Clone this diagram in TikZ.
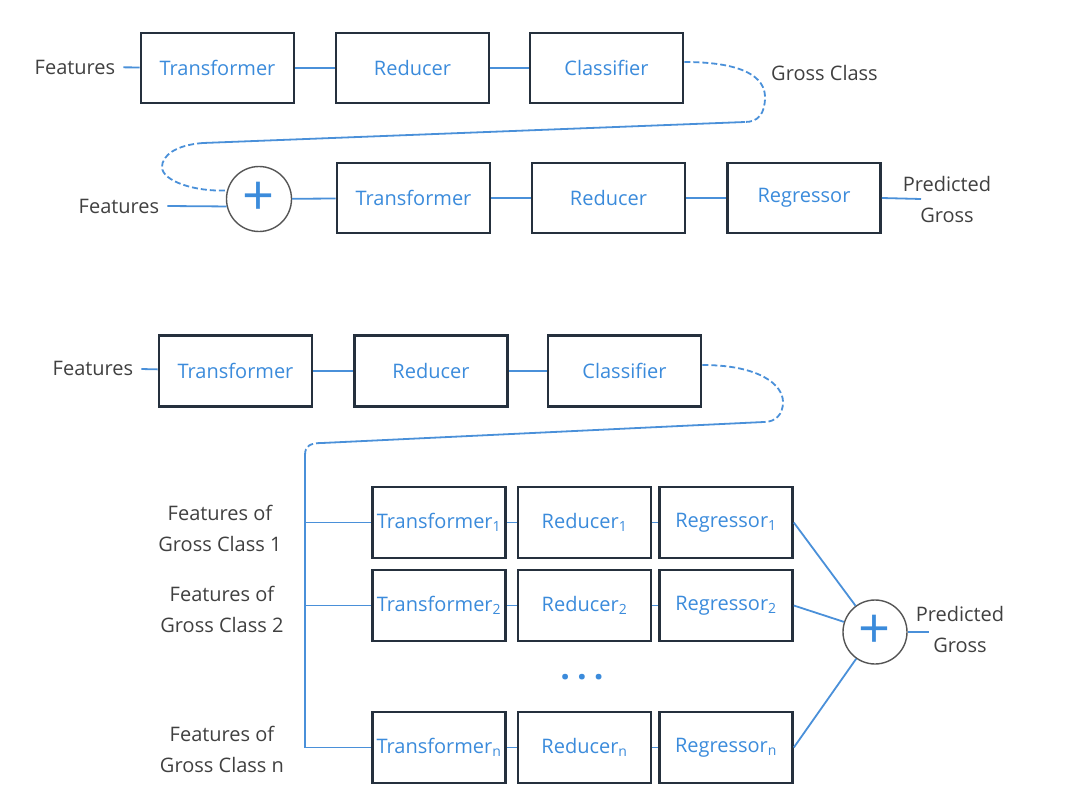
\documentclass[tikz,border=0pt]{standalone}
\usepackage{fontspec}
\setmainfont{Open Sans}
\definecolor{boxline}{HTML}{25303D}
\definecolor{lineblue}{HTML}{4A90D9}
\definecolor{txtblue}{HTML}{3B8BDB}
\definecolor{txtgray}{HTML}{404040}
\definecolor{ringgray}{HTML}{555555}
\tikzset{
	every picture/.append style={font=\fontsize{20}{31}\selectfont},
	mybox/.style = {rectangle, draw=boxline, line width=2.6pt, minimum width=153pt, minimum height=70pt, text=txtblue, inner sep=0pt},
	mysmallbox/.style = {mybox, minimum width=133pt, minimum height=71pt},
	mysum/.style = {circle, draw=ringgray, line width=1.4pt, minimum size=65pt, inner sep=0pt, text=txtblue, font=\fontsize{56}{56}\selectfont},
	mylabel/.style = {text=txtgray, align=center, inner xsep=8pt},
	myedge/.style = {draw=lineblue, line width=1.8pt},
	myloop/.style = {draw=lineblue, line width=1.8pt, dash pattern=on 6pt off 3pt}
}

\begin{document}
\begin{tikzpicture}[x=1pt,y=-1pt]
				\useasboundingbox (0,0) rectangle (1074,800);
				% classifier, then one regressor
				\node[mylabel] at (75,67) (fa) {Features};
				\node[mybox] at (217.5,68) (ta) {Transformer};
				\node[mybox] at (412.5,68) (ra) {Reducer};
				\node[mybox] at (606.5,68) (ca) {Classifier};
				\node[mylabel] at (824.5,73) (gross) {Gross Class};
				\node[mylabel] at (119,206) (fb) {Features};
				\node[mysum] at (259,199) (sa) {+};
				\node[mybox] at (413.5,198) (tb) {Transformer};
				\node[mybox] at (608.5,198) (rb) {Reducer};
				\node[mybox] at (804,198) (gb) {Regressor};
				\coordinate (oa) at (921,199);
				\coordinate (la) at (745,122);
				\coordinate (lb) at (203,143);
				\path (fa) edge [myedge] (ta);
				\path (ta) edge [myedge] (ra);
				\path (ra) edge [myedge] (ca);
				\draw[myloop] ([yshift=6pt]ca.east) .. controls (745,62) and (765,78) .. (765,97) .. controls (765,114) and (758,122) .. (la);
				\draw[myedge] (la) -- (lb);
				\draw[myloop] (lb) .. controls (175,145) and (162,156) .. (162,167) .. controls (162,181) and (195,192) .. (sa.165);
				\draw[myedge] (fb.east) -- (sa.193);
				\path (sa) edge [myedge] (tb);
				\path (tb) edge [myedge] (rb);
				\path (rb) edge [myedge] (gb);
				\draw[myedge] (gb.east) -- (oa);
				\node[mylabel] at (947,199) (pa) {Predicted\\Gross};
				% classifier, then one regressor per gross class
				\node[mylabel] at (93,368) (fc) {Features};
				\node[mybox, minimum height=71pt] at (235.5,371) (tc) {Transformer};
				\node[mybox, minimum height=71pt] at (431,371) (rc) {Reducer};
				\node[mybox, minimum height=71pt] at (624.5,371) (cc) {Classifier};
				\node[mylabel] at (220,528) (f1) {Features of\\Gross Class 1};
				\node[mylabel] at (222,609) (f2) {Features of\\Gross Class 2};
				\node[mylabel] at (222,749) (fn) {Features of\\Gross Class n};
				\node[mysmallbox] at (439,522.5) (t1) {Transformer\textsubscript{1}};
				\node[mysmallbox] at (584.5,522.5) (r1) {Reducer\textsubscript{1}};
				\node[mysmallbox] at (726,522.5) (g1) {Regressor\textsubscript{1}};
				\node[mysmallbox] at (439,605.5) (t2) {Transformer\textsubscript{2}};
				\node[mysmallbox] at (584.5,605.5) (r2) {Reducer\textsubscript{2}};
				\node[mysmallbox] at (726,605.5) (g2) {Regressor\textsubscript{2}};
				\node[text=txtblue, font=\fontsize{34}{34}\selectfont\bfseries] at (582,677) (dots) {.\hspace{7pt}.\hspace{7pt}.};
				\node[mysmallbox] at (439,747.5) (tn) {Transformer\textsubscript{n}};
				\node[mysmallbox] at (584.5,747.5) (rn) {Reducer\textsubscript{n}};
				\node[mysmallbox] at (726,747.5) (gn) {Regressor\textsubscript{n}};
				\node[mysum, minimum size=64pt] at (875,632) (sb) {+};
				\coordinate (ob) at (929,632);
				\coordinate (lc) at (764,422);
				\coordinate (ld) at (322,443);
				\coordinate (bus) at (305,455);
				\path (fc) edge [myedge] (tc);
				\path (tc) edge [myedge] (rc);
				\path (rc) edge [myedge] (cc);
				\draw[myloop] ([yshift=6pt]cc.east) .. controls (760,365) and (783,385) .. (783,402) .. controls (783,415) and (775,422) .. (lc);
				\draw[myedge] (lc) -- (ld);
				\draw[myloop] (ld) .. controls (310,443) and (305,446) .. (bus);
				\draw[myedge] (bus) -- (bus |- tn.west);
				\path (bus |- t1.west) edge [myedge] (t1);
				\path (bus |- t2.west) edge [myedge] (t2);
				\path (bus |- tn.west) edge [myedge] (tn);
				\path (t1) edge [myedge] (r1);
				\path (r1) edge [myedge] (g1);
				\path (t2) edge [myedge] (r2);
				\path (r2) edge [myedge] (g2);
				\path (tn) edge [myedge] (rn);
				\path (rn) edge [myedge] (gn);
				\path (g1.east) edge [myedge] (sb);
				\path (g2.east) edge [myedge] (sb);
				\path (gn.east) edge [myedge] (sb);
				\draw[myedge] (sb.east) -- (ob);
				\node[mylabel] at (960,629) (pb) {Predicted\\Gross};
			\end{tikzpicture}
\end{document}
